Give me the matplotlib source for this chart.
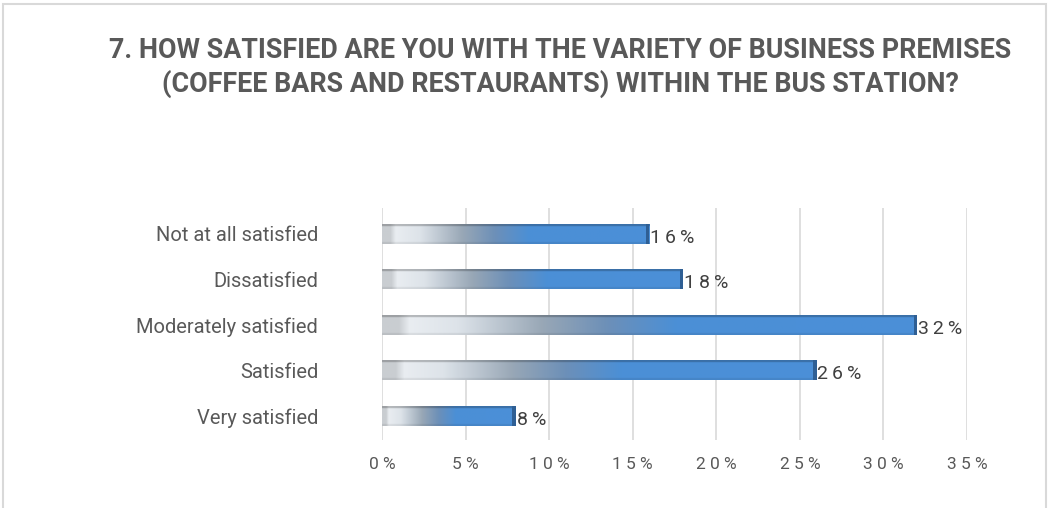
import numpy as np
import matplotlib.pyplot as plt
from matplotlib.colors import to_rgb
from matplotlib.patches import Rectangle

# survey answers, bottom to top
categories = ["Very satisfied", "Satisfied", "Moderately satisfied",
              "Dissatisfied", "Not at all satisfied"]
shares = [8, 26, 32, 18, 16]
ticks = [0, 5, 10, 15, 20, 25, 30, 35]

title = ("7. HOW SATISFIED ARE YOU WITH THE VARIETY OF BUSINESS PREMISES\n"
         "(COFFEE BARS AND RESTAURANTS) WITHIN THE BUS STATION?")

font = ["Roboto", "DejaVu Sans"]
text_col = "#595959"

# horizontal colour ramp of each bar, as fraction of the bar length
stops = [(0.00, "#c9cdd1"), (0.03, "#c9cdd1"), (0.05, "#e9edf1"),
         (0.14, "#dde3e9"), (0.30, "#98a7b6"), (0.42, "#6d90b8"),
         (0.55, "#4b8fd6"), (1.00, "#4b90d8")]


def ramp(n=300):
    pos = np.array([s[0] for s in stops])
    cols = np.array([to_rgb(s[1]) for s in stops])
    x = np.linspace(0, 1, n)
    return np.stack([np.interp(x, pos, cols[:, k]) for k in range(3)], axis=1)


def bar_image():
    row = ramp()
    ny = 40
    yy = np.linspace(0, 1, ny)  # 0 = bottom, 1 = top
    shade = np.ones(ny)
    shade[yy > 0.86] = 0.78      # darker top face
    shade[yy < 0.08] = 0.93
    img = row[None, :, :] * shade[:, None, None]
    return np.clip(img, 0, 1)


fig = plt.figure(figsize=(10.49, 5.08), dpi=100)
ax = fig.add_axes([382 / 1049, 68 / 508, 585 / 1049, 232 / 508])

ypos = np.arange(len(categories))
h = 0.44
bars = ax.barh(ypos, shares, height=h, color="none", edgecolor="none", zorder=3)
img = bar_image()
for b, v, y in zip(bars, shares, ypos):
    im = ax.imshow(img, extent=[0, v, y - h / 2, y + h / 2], origin="lower",
                   aspect="auto", interpolation="bilinear", zorder=3)
    im.set_clip_path(b)
    # dark right end cap
    ax.barh(y, 0.2, left=v - 0.2, height=h, color="#2f5f94", zorder=4)
    ax.text(v + 0.05, y - 0.08, "\u2009".join(f"{v}%"), va="center", ha="left",
            fontsize=14, color="#404040", family=font, zorder=5)

for t in ticks:
    ax.axvline(t, color="#d9d9d9", lw=1.2, zorder=1)

ax.set_xlim(0, 35)
ax.set_ylim(-0.53, 4.57)
ax.set_yticks(ypos)
ax.set_yticklabels(categories, family=font, fontsize=14.5, color=text_col)
ax.set_xticks(ticks)
ax.set_xticklabels([" ".join(f"{t}%") for t in ticks], fontsize=12.5,
                   color=text_col, family=font)
ax.tick_params(axis="y", length=0, pad=46)
ax.tick_params(axis="x", length=0, pad=12)
for s in ax.spines.values():
    s.set_visible(False)

fig.text(0.534, 0.867, title, ha="center", va="center", fontsize=19.4,
         fontweight="bold", color=text_col, family=font, linespacing=1.3)

fig.add_artist(Rectangle((3 / 1049, -0.01), 1043 / 1049, 1 - 4 / 508 + 0.01,
                         transform=fig.transFigure, fill=False,
                         edgecolor="#d9d9d9", lw=1.5))

fig.savefig("out.png", dpi=100)
